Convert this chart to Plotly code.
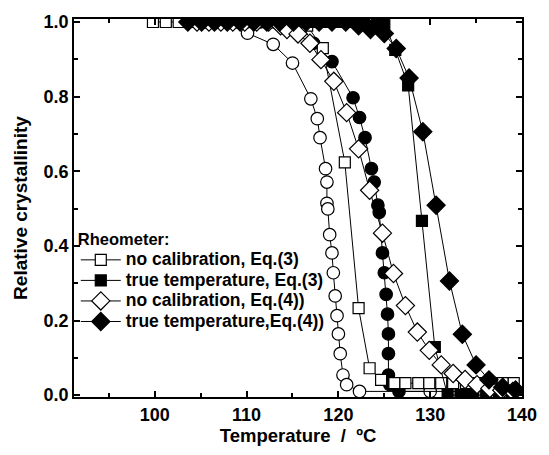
import plotly.graph_objects as go

# Temperature (ºC) and relative crystallinity for each run

# reference runs (open / filled circles)
t_open_circle = [104.6, 106.0, 107.4, 108.8, 110.1, 112.9, 115.0, 117.0, 117.7, 118.0,
                 118.6, 118.75, 118.75, 118.85, 119.05, 119.3, 119.45, 119.65, 119.85,
                 120.0, 120.2, 120.5, 120.9, 122.3, 130.0]
x_open_circle = [1.0, 1.0, 1.0, 1.0, 0.97, 0.94, 0.89, 0.794, 0.741, 0.69,
                 0.607, 0.571, 0.514, 0.499, 0.43, 0.381, 0.328, 0.266, 0.213,
                 0.164, 0.111, 0.054, 0.028, 0.01, 0.01]

t_filled_circle = [105.5, 107.0, 108.5, 110.0, 111.5, 113.0, 114.5, 116.0, 117.3, 119.3,
                   121.6, 122.3, 122.9, 123.6, 123.9, 124.3, 124.45, 124.8, 125.0, 125.2,
                   125.35, 125.45, 125.45, 125.45, 125.6, 126.6, 134.3]
x_filled_circle = [1.0, 1.0, 1.0, 1.0, 1.0, 1.0, 1.0, 0.99, 0.943, 0.894,
                   0.797, 0.744, 0.69, 0.607, 0.571, 0.509, 0.49, 0.381, 0.328, 0.27,
                   0.217, 0.164, 0.111, 0.054, 0.028, 0.01, 0.01]

# Rheometer: no calibration, Eq.(3)
t_nocal_eq3 = [99.8, 101.2, 102.6, 104.0, 105.4, 106.8, 108.2, 109.6, 111.0, 112.4,
               113.8, 115.2, 116.6, 118.3, 120.7, 122.2, 123.4, 124.65, 126.1, 127.3,
               128.7, 129.9, 131.2, 132.5, 133.9, 135.3, 136.6, 137.9, 139.1]
x_nocal_eq3 = [1.0, 1.0, 1.0, 1.0, 1.0, 1.0, 1.0, 1.0, 1.0, 1.0,
               1.0, 1.0, 0.99, 0.93, 0.624, 0.233, 0.072, 0.041, 0.032, 0.032,
               0.032, 0.032, 0.032, 0.032, 0.032, 0.032, 0.032, 0.032, 0.032]

# Rheometer: true temperature, Eq.(3)
t_true_eq3 = [104.6, 106.0, 107.4, 108.8, 110.2, 111.6, 113.0, 114.4, 115.8, 117.2,
              118.6, 120.0, 121.4, 122.8, 124.2, 125.0, 126.2, 127.6, 129.1, 130.5,
              131.9, 133.3, 134.7, 136.1, 137.5, 138.9]
x_true_eq3 = [1.0, 1.0, 1.0, 1.0, 1.0, 1.0, 1.0, 1.0, 1.0, 1.0,
              1.0, 1.0, 1.0, 1.0, 1.0, 0.996, 0.925, 0.83, 0.467, 0.129,
              0.0, 0.0, 0.0, 0.0, 0.0, 0.0]

# Rheometer: no calibration, Eq.(4)
t_nocal_eq4 = [104.6, 105.9, 107.2, 108.5, 109.8, 111.1, 112.4, 113.7, 114.4, 115.6,
               116.9, 118.1, 119.5, 120.9, 122.2, 123.4, 124.8, 126.0, 127.3, 128.6,
               129.9, 131.2, 132.5, 133.8, 135.1, 136.5, 137.8, 139.0]
x_nocal_eq4 = [1.0, 1.0, 1.0, 1.0, 1.0, 1.0, 1.0, 0.99, 0.98, 0.968,
               0.943, 0.899, 0.841, 0.757, 0.66, 0.549, 0.434, 0.326, 0.24, 0.169,
               0.12, 0.081, 0.058, 0.042, 0.028, 0.018, 0.013, 0.01]

# Rheometer: true temperature, Eq.(4)
t_true_eq4 = [103.6, 105.1, 106.5, 107.9, 109.3, 110.8, 112.2, 113.6, 115.1, 116.5,
              117.9, 119.3, 120.8, 122.2, 123.5, 125.0, 126.3, 127.7, 129.2, 130.65,
              132.1, 133.5, 135.0, 136.4, 137.9, 139.3]
x_true_eq4 = [1.0, 1.0, 1.0, 1.0, 1.0, 1.0, 1.0, 1.0, 1.0, 1.0,
              1.0, 1.0, 1.0, 0.99, 0.98, 0.969, 0.929, 0.85, 0.706, 0.509,
              0.306, 0.163, 0.081, 0.041, 0.021, 0.014]

legend_labels = ["no calibration, Eq.(3)", "true temperature, Eq.(3)",
                 "no calibration, Eq.(4))", "true temperature,Eq.(4))"]

BLACK = "#000000"
LINE = dict(color=BLACK, width=1)
# legend rows are packed tightly: row height follows the legend font size,
# while the label text itself is drawn a little larger
LABEL_STYLE = "font-size:17.5px"


def series(t, x, symbol, fill, size, name=None, legend=True):
    label = f'<span style="{LABEL_STYLE}">{name}</span>' if name else None
    return go.Scatter(
        x=t, y=x, mode="lines+markers", name=label, showlegend=legend,
        line=LINE,
        marker=dict(symbol=symbol, size=size, color=fill,
                    line=dict(color=BLACK, width=1.2)),
    )


fig = go.Figure()
fig.add_trace(series(t_open_circle, x_open_circle, "circle", "white", 12.5, legend=False))
fig.add_trace(series(t_filled_circle, x_filled_circle, "circle", BLACK, 12.5, legend=False))
fig.add_trace(series(t_nocal_eq3, x_nocal_eq3, "square", "white", 11, legend_labels[0]))
fig.add_trace(series(t_true_eq3, x_true_eq3, "square", BLACK, 11, legend_labels[1]))
fig.add_trace(series(t_nocal_eq4, x_nocal_eq4, "diamond", "white", 14, legend_labels[2]))
fig.add_trace(series(t_true_eq4, x_true_eq4, "diamond", BLACK, 14, legend_labels[3]))

FONT = "Liberation Sans, Arial, sans-serif"
axis_common = dict(
    showline=True, linecolor=BLACK, linewidth=1.8, mirror="ticks",
    ticks="inside", ticklen=6, tickwidth=1.5, tickcolor=BLACK,
    showgrid=False, zeroline=False,
    tickfont=dict(family=FONT, size=18, color=BLACK, weight="bold"),
)

fig.update_xaxes(
    range=[91.2, 140], tickvals=[100, 110, 120, 130, 140],
    minor=dict(tickvals=[95, 105, 115, 125, 135], ticks="inside", ticklen=4,
               tickwidth=1.5, tickcolor=BLACK),
    title=dict(text="Temperature\u00a0\u00a0/\u00a0\u00a0ºC", standoff=6,
               font=dict(family=FONT, size=18.5, color=BLACK, weight="bold")),
    **axis_common,
)
fig.update_yaxes(
    range=[-0.005, 1.008], tickvals=[0, 0.2, 0.4, 0.6, 0.8, 1.0], tickformat=".1f",
    minor=dict(tickvals=[0.1, 0.3, 0.5, 0.7, 0.9], ticks="inside", ticklen=4,
               tickwidth=1.5, tickcolor=BLACK),
    title=dict(text="Relative crystallinity", standoff=11,
               font=dict(family=FONT, size=19, color=BLACK, weight="bold")),
    **axis_common,
)

fig.update_layout(
    width=549, height=455,
    margin=dict(l=74, r=18, t=18, b=55),
    paper_bgcolor="white", plot_bgcolor="white",
    font=dict(family=FONT, color=BLACK),
    legend=dict(
        x=0.004, xanchor="left", y=0.46, yanchor="top",
        bgcolor="rgba(0,0,0,0)", borderwidth=0,
        title=dict(text="<b>Rheometer:</b>", font=dict(family=FONT, size=16.5, color=BLACK)),
        font=dict(family=FONT, size=13.5, color=BLACK, weight="bold"),
        itemwidth=40, tracegroupgap=0,
    ),
)

fig.write_html("out.html")
